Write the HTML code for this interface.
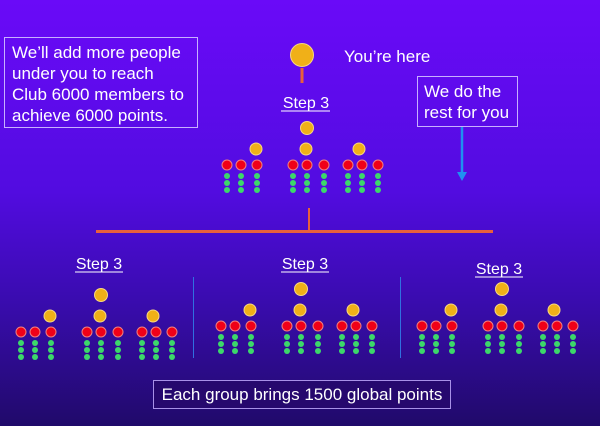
<!DOCTYPE html>
<html><head><meta charset="utf-8"><style>
html,body{margin:0;padding:0;width:600px;height:426px;overflow:hidden}
svg{display:block}
text{font-family:"Liberation Sans",sans-serif;fill:#fff}
</style></head><body>
<svg width="600" height="426" viewBox="0 0 600 426" xmlns="http://www.w3.org/2000/svg">
<defs>
<linearGradient id="bg" x1="0" y1="0" x2="0" y2="1">
<stop offset="0" stop-color="#6a0af8"/>
<stop offset="0.45" stop-color="#520ce0"/>
<stop offset="0.7" stop-color="#3a0cb0"/>
<stop offset="1" stop-color="#200a6a"/>
</linearGradient>
<g id="gcol"><circle cx="0" cy="48" r="3" fill="#3cd86a"/><circle cx="0" cy="55" r="3" fill="#3cd86a"/><circle cx="0" cy="62" r="3" fill="#3cd86a"/><circle cx="0" cy="37" r="5" fill="#f00018" stroke="#f08080" stroke-width="1"/></g>
<g id="tree">
<circle cx="0" cy="0" r="6.5" fill="#f0b018" stroke="#f8d880" stroke-width="1"/>
<circle cx="-51" cy="21" r="6" fill="#f0b018" stroke="#f8d880" stroke-width="1"/>
<circle cx="-1" cy="21" r="6" fill="#f0b018" stroke="#f8d880" stroke-width="1"/>
<circle cx="52" cy="21" r="6" fill="#f0b018" stroke="#f8d880" stroke-width="1"/>
<use href="#gcol" x="-80"/><use href="#gcol" x="-66"/><use href="#gcol" x="-50"/>
<use href="#gcol" x="-14"/><use href="#gcol" x="0"/><use href="#gcol" x="17"/>
<use href="#gcol" x="41"/><use href="#gcol" x="55"/><use href="#gcol" x="71"/>
</g>
</defs>
<rect width="600" height="426" fill="url(#bg)"/>

<rect x="4.5" y="37.5" width="193" height="90" fill="none" stroke="#c8b0ff" stroke-width="1"/>
<text font-size="17"><tspan x="12" y="58">We’ll add more people</tspan><tspan x="12" y="79">under you to reach</tspan><tspan x="12" y="100">Club 6000 members to</tspan><tspan x="12" y="121">achieve 6000 points.</tspan></text>

<circle cx="302" cy="55" r="11.5" fill="#f0b018" stroke="#f8d880" stroke-width="1"/>
<line x1="302" y1="68" x2="302" y2="83" stroke="#e8603c" stroke-width="3"/>
<text x="344" y="62" font-size="17">You’re here</text>
<text x="306" y="108" font-size="16" text-anchor="middle">Step 3</text>
<line x1="281" y1="111" x2="330" y2="111" stroke="#fff" stroke-width="1"/>

<rect x="417.5" y="76.5" width="100" height="50" fill="none" stroke="#c8b0ff" stroke-width="1"/>
<text font-size="17"><tspan x="424" y="97">We do the</tspan><tspan x="424" y="118">rest for you</tspan></text>
<line x1="462" y1="127" x2="462" y2="173" stroke="#2090f0" stroke-width="2.5"/>
<polygon points="457,172 467,172 462,181" fill="#2090f0"/>

<use href="#tree" x="307" y="128"/>

<line x1="309" y1="208" x2="309" y2="231" stroke="#e8603c" stroke-width="2"/>
<line x1="96" y1="231.5" x2="493" y2="231.5" stroke="#e8603c" stroke-width="3"/>

<line x1="193.5" y1="277" x2="193.5" y2="358" stroke="#3070e0" stroke-width="1"/>
<line x1="400.5" y1="277" x2="400.5" y2="358" stroke="#3070e0" stroke-width="1"/>

<text x="99" y="269" font-size="16" text-anchor="middle">Step 3</text>
<line x1="75" y1="272" x2="123" y2="272" stroke="#fff" stroke-width="1"/>
<text x="305" y="269" font-size="16" text-anchor="middle">Step 3</text>
<line x1="281" y1="272" x2="329" y2="272" stroke="#fff" stroke-width="1"/>
<text x="499" y="274" font-size="16" text-anchor="middle">Step 3</text>
<line x1="475" y1="277" x2="523" y2="277" stroke="#fff" stroke-width="1"/>

<use href="#tree" x="101" y="295"/>
<use href="#tree" x="301" y="289"/>
<use href="#tree" x="502" y="289"/>

<rect x="153.5" y="380.5" width="297" height="28" fill="#26086e" stroke="#a890e8" stroke-width="1"/>
<text x="302" y="400" font-size="17" text-anchor="middle">Each group brings 1500 global points</text>
</svg>
</body></html>
